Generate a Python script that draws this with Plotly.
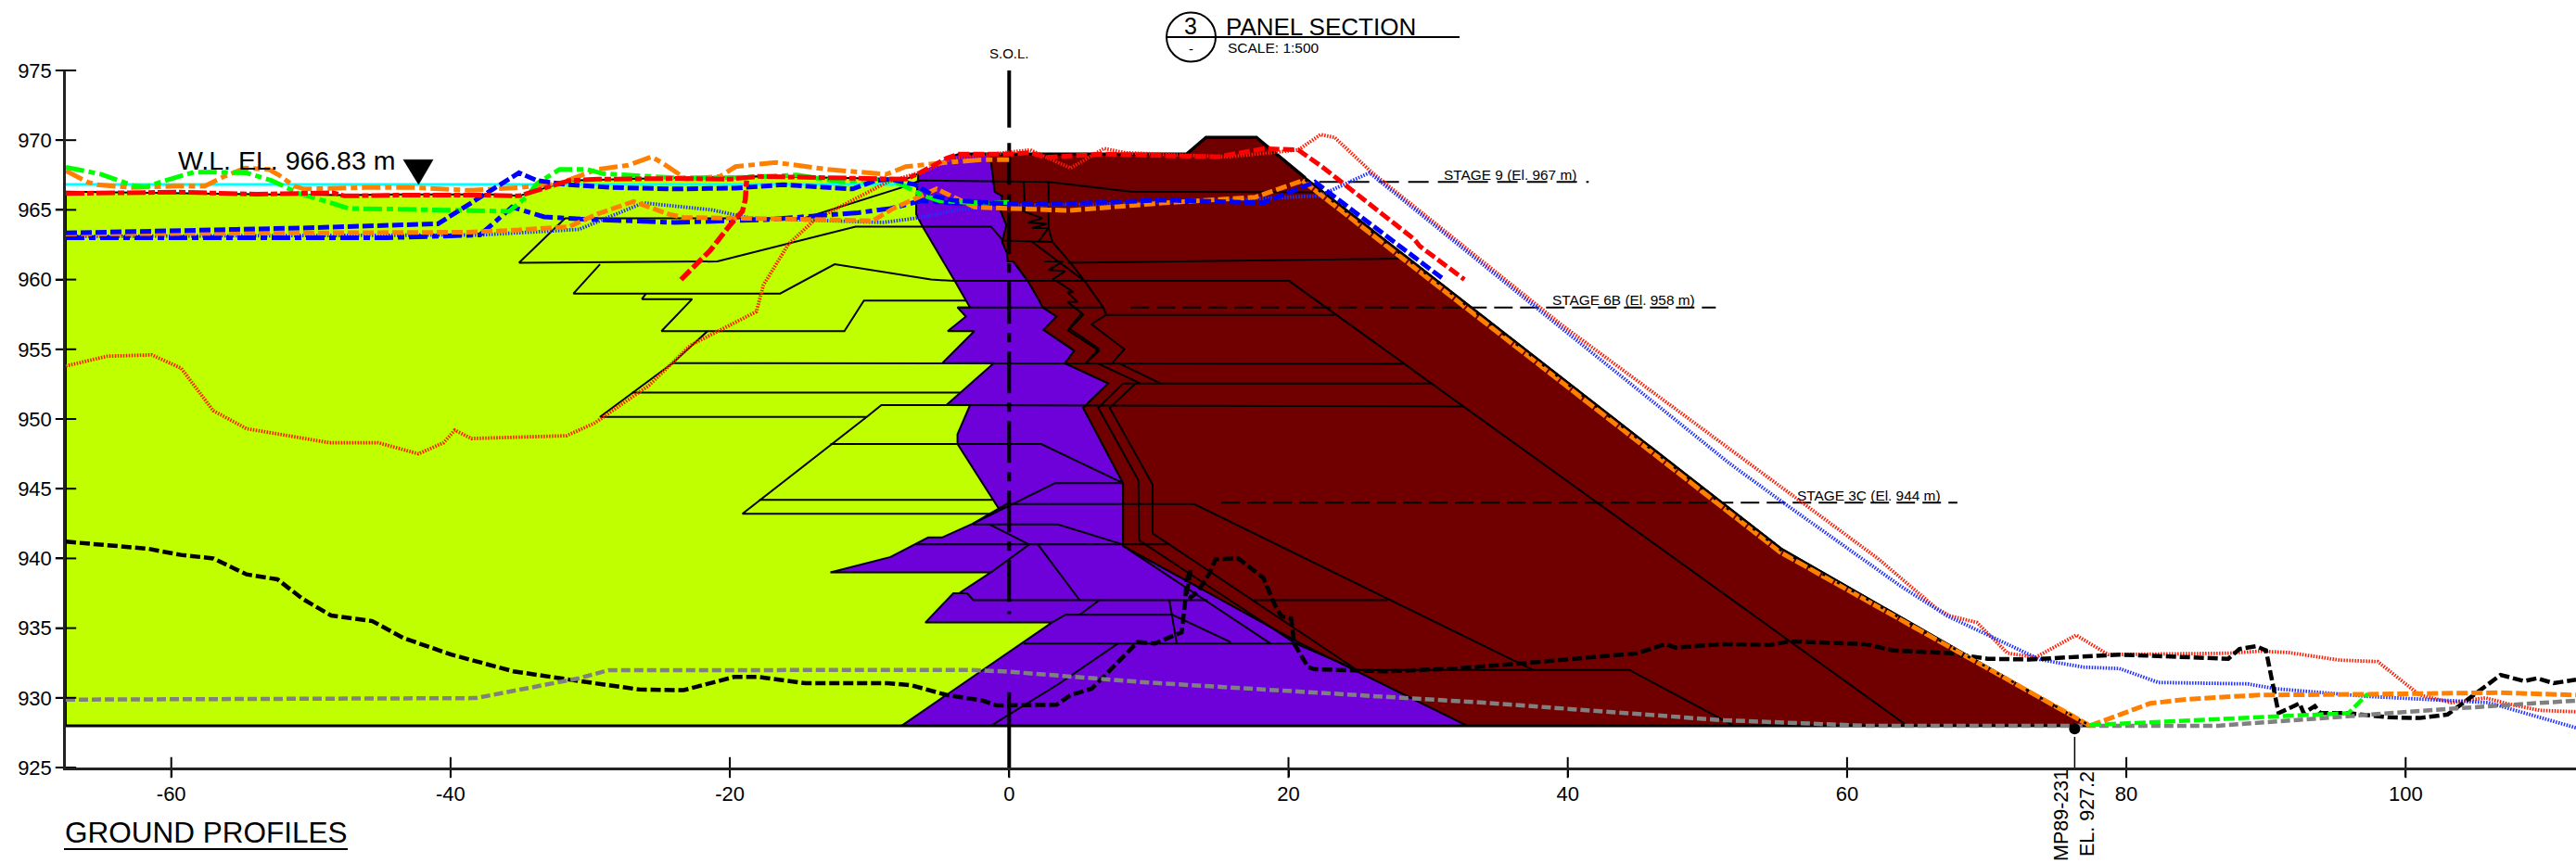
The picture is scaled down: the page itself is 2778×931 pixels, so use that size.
import plotly.graph_objects as go

X_TICKS = [-60, -40, -20, 0, 20, 40, 60, 80, 100]
Y_TICKS = [925, 930, 935, 940, 945, 950, 955, 960, 965, 970, 975]

YELLOW_ZONE = [(-67.55,928),(-67.55,966.3),(-47.5,966.05),(-44,966.1),(-37,966.1),(-35.1,966.0),(-31.5,967.1),(-24,967.3),(-18,967.4),(-7.4,967.2),(-6.5,967.6),(3.06,967),(3.06,928)]
PURPLE_ZONE = [(-6.5,967.6),(-6.66,965.6),(-6.66,964.7),(-6.2,963.8),(-3.9,959.9),(-2.8,958),(-3.7,958),(-3.1,957.35),(-4.4,956.3),(-2.5,956.3),(-4.8,954),(-1.1,954),(-4.5,951),(-2.8,951),(-3.7,948.9),(-3.7,948.2),(-0.7,943.5),(-0.1,943.95),(-2.6,942.5),(-4.8,941.5),(-5.8,941.5),(-8.5,940.1),(-12.8,939),(-1.3,939),(-3.6,937.5),(-4,937.5),(-6,935.4),(3.06,935.4),(-7.7,928),(32.8,928),(20.87,933.9),(8.16,940.9),(8.16,945.4),(5.3,950.8),(7.1,952.55),(4,954),(4.67,954.9),(2.47,956.4),(3.4,957.35),(2.4,958),(2.1,958.6),(1.34,959.9),(0.3,961.3),(-0.1,961.3),(-0.15,961.9),(-0.5,962.7),(-0.2,963.9),(-0.6,964.9),(-0.5,966),(-1.03,966.3),(-1.3,968.5),(-1.3,969),(-3.65,969),(-4.5,968.7)]
RED_ZONE = [(32.8,928),(20.87,933.9),(8.16,940.9),(8.16,945.4),(5.3,950.8),(7.1,952.55),(4,954),(4.67,954.9),(2.47,956.4),(3.4,957.35),(2.4,958),(2.1,958.6),(1.34,959.9),(0.3,961.3),(-0.1,961.3),(-0.15,961.9),(-0.5,962.7),(-0.2,963.9),(-0.6,964.9),(-0.5,966),(-1.03,966.3),(-1.3,968.5),(-1.3,969),(12.7,969),(14.1,970.2),(17.7,970.2),(21.2,967.3),(33.1,958),(51,944),(55.3,940.7),(77.4,928)]
CREST = [(-3.65,969),(12.7,969),(14.1,970.2),(17.7,970.2),(21.2,967.3)]
SLOPE = [(21.2,967.3),(33.1,958),(51,944),(55.3,940.7),(77.4,928)]
SLOPE_DOTS = [(21.2,967.15),(33.1,957.85),(51,943.85),(55.3,940.55),(77.4,928)]
BASE = [(-67.55,928),(77.4,928)]

INNER_LINES = [
    [(-35.1,961.2),(-31.8,964.4),(-14.7,964.4),(-7.4,966.7),(-6.4,967.1),(2.8,967),(8.75,966.3),(18.4,966.3),(21.9,966.25)],
    [(-35.1,961.2),(-20.9,961.3),(-11,963.8),(-1.3,963.8),(-0.44,962.8),(3.1,962.7)],
    [(-29.3,961.1),(-31.2,959),(-16.4,959),(-12.5,961.1),(-5.6,960),(-3.9,959.9),(20.05,959.9),(64.3,928)],
    [(-26,959),(-26.3,958.6),(-22.7,958.6),(-24.9,956.3),(-11.8,956.3),(-10.4,958.5),(-3.1,958.5)],
    [(-21.6,956.3),(-24.1,954),(-29.3,950.15),(-10.2,950.15),(-9.15,951),(32.5,950.9)],
    [(-24.1,954),(28.2,953.96)],
    [(-27,951.9),(-3.5,951.9)],
    [(-10.2,950.15),(-19.1,943.2),(-1.25,943.2)],
    [(-12.8,948.2),(2.3,948.2),(8.16,945.4)],
    [(-17.9,944.2),(-1.2,944.2)],
    [(3.3,945.4),(8.16,945.4)],
    [(-2.6,942.5),(3.3,945.4)],
    [(0.1,943.9),(13.25,943.9),(37.5,932)],
    [(-2.6,942.44),(3.49,942.44),(8.15,941)],
    [(-1.43,942.44),(1.44,941),(-1.3,939)],
    [(2.06,941),(5.05,937)],
    [(-6.7,941),(11.3,941)],
    [(-3.6,937.5),(-3,937.5),(-2.57,937),(14.2,937)],
    [(3.06,935.4),(4,935.95),(11.7,935.95),(15.85,934)],
    [(6.46,937),(5.05,935.95)],
    [(1.03,933.9),(20.87,933.9)],
    [(-1.3,928),(3.56,931),(7.8,933.9)],
    [(11.47,937),(12,933.9)],
    [(17.5,937),(27.1,937)],
    [(9.3,941.3),(20.5,933.9),(24.9,932)],
    [(10.27,941.8),(24.9,932)],
    [(8.16,940.9),(18.7,933.9)],
    [(24.9,932),(44.4,932),(51.9,928)],
    [(6.38,953.96),(9.4,952.55)],
    [(8.16,952.55),(6.38,950.8),(9.26,945.6),(9.3,941.3)],
    [(7.86,954),(10.83,952.55)],
    [(9.05,952.55),(7.2,950.8),(10.27,945.3),(10.27,941.8)],
    [(5.5,954),(6.44,954.9),(4.23,956.35),(5.3,957.47),(4.7,958)],
    [(3.4,959.9),(4.6,959.1),(4.16,959.1),(4.9,958.4),(4.16,958.4),(5.2,957.6),(4.3,956.5),(6.4,955.05),(5.5,954)],
    [(7.27,953.9),(8.25,955),(5.9,956.8),(6.95,957.47),(6.75,958),(5.4,959.9),(1.65,962.7)],
    [(3.1,962.7),(4.4,961.2),(5.4,959.9)],
    [(1.04,967),(1.1,965.8),(1.0,964.9),(2.37,964.4),(1.34,964.1),(2.68,964),(1.64,963.7),(2.82,963.7)],
    [(2.82,967),(2.82,963.7),(2.08,962.7)],
    [(2.82,963.7),(3.1,962.7)],
    [(2.5,961.3),(3.86,961.3),(2.82,960.68),(4,960.6),(3.1,960)],
    [(-3.7,958),(6.75,958)],
    [(6.95,957.47),(23.3,957.47)],
    [(8.16,952.55),(30.3,952.55)],
    [(4.2,961.2),(28.1,961.5)],
]

STAGE_9 = [(22.2,967),(41.5,967)]
STAGE_6B = [(8.7,958),(50.6,958)]
STAGE_3C = [(15.2,944),(67.9,944)]

CYAN_WL = [(-67.55,966.83),(-6.5,966.83)]

RED_DOTTED = [(-67.55,953.8),(-64.6,954.5),(-61.4,954.6),(-59.3,953.65),(-57,950.6),(-54.6,949.3),(-48.7,948.3),(-45.2,948.3),(-42.3,947.5),(-40.5,948.3),(-39.7,949.2),(-38.5,948.6),(-31.7,948.8),(-29.7,949.7),(-25.8,952.4),(-22.8,955.3),(-18.1,957.7),(-17.6,959.6),(-15.8,962.55),(-13.9,964.3),(-8.7,967),(-6,967.8),(-4,968.7),(0,969.1),(1.5,969.3),(4.4,968),(6.8,969.4),(8.3,969.1),(15.7,968.8),(20.7,969.3),(22.3,970.4),(23.3,970.2),(26,967.66),(39.5,956.8),(53,946.8),(59.2,942.2),(62.2,940),(66.3,936.5),(67.3,935.9),(69.3,935.4),(71.5,933.2),(73.5,932.9),(76.4,934.5),(78.7,933.1),(87.3,933.2),(89.6,933.35),(91.6,933.25),(95.3,932.7),(98,932.6),(101,930.2),(103.3,929.65),(105.7,930),(107.4,929.55),(109.6,929.1),(112.2,929)]
BLUE_DOTTED = [(-67.55,963.1),(-37.9,963.2),(-30.8,963.6),(-28.4,964.6),(-26.2,965.5),(-21.3,965),(-18.5,964.4),(-9,964.1),(-6.7,964.4),(-3.65,965),(0,965.35),(6.4,965.4),(15.4,965.7),(22.2,966),(25.8,967.66),(39.2,956.8),(51.6,946.8),(55.5,943.95),(63.9,937.97),(67.2,935.86),(73.8,932.75),(76.9,932.2),(79.5,932.1),(82.3,931.1),(88.7,931),(90.7,930.65),(97.3,930.1),(105.9,929.66),(112.2,927.85)]
GRAY_DASHED = [(-67.55,929.87),(-38.2,929.98),(-30.8,931.4),(-28.7,931.98),(-2.8,932),(0,931.87),(9.9,931.1),(29.4,929.87),(34,929.65),(51,928.4),(61.2,928),(86.6,928),(95.9,928.7),(103,929.2),(112.2,929.8)]
BLACK_DASHED = [(-67.55,941.2),(-61.7,940.7),(-59.3,940.25),(-57,940),(-54.6,938.85),(-52.4,938.5),(-50.6,937.1),(-48.55,935.9),(-45.6,935.5),(-43.4,934.3),(-39.95,933.1),(-35.5,931.9),(-30.76,931.2),(-26.5,930.6),(-23.3,930.55),(-19.7,931.5),(-18,931.5),(-14.6,931.05),(-8.7,931.05),(-7,930.9),(-4.47,930.2),(-1.9,929.8),(-0.9,929.45),(3.4,929.5),(4.4,930.2),(5.9,930.65),(6.9,931.65),(9.2,934),(10.45,933.9),(11.85,934.5),(12.35,934.7),(12.6,936.85),(12.7,938.4),(13,939.2),(12.7,937.4),(13,937.2),(13.5,937.6),(14.3,938.85),(14.8,939.95),(16.4,940),(18.2,938.6),(19.1,936.5),(19.5,935.85),(20.2,935.7),(20.4,933.9),(21.4,932.2),(21.9,932.05),(26.97,931.9),(32,932.1),(36.5,932.45),(40.9,932.85),(45,933.2),(47,933.85),(47.7,933.6),(51.1,933.85),(54.5,933.8),(55.9,934.05),(61.3,933.85),(63.3,933.4),(67.4,933.2),(70.05,932.8),(73,932.75),(75.8,932.9),(79.5,933.1),(87.3,932.8),(88.1,933.5),(89.3,933.7),(90,933.4),(90.9,928.9),(92.4,929.6),(92.7,928.9),(93.5,929.4),(93.9,928.9),(95.9,928.9),(98.8,928.6),(101,928.55),(103,928.8),(106.8,931.64),(108.5,931.2),(109.4,931.4),(110.6,931.05),(112.2,931.3)]
RED_SURFACE = [(-67.55,966.18),(-59.4,966.27),(-53.9,966.12),(-48.4,966.23),(-47.6,966),(-44,966.05),(-37.3,966.05),(-35.1,966),(-31.5,967.1),(-29.5,967.2),(-24,967.25),(-20,967.2),(-18,967.4),(-13,967.3),(-7.4,967.2),(-6.5,967.6)]
RED_CREST = [(-6.5,967.6),(-4.5,968.7),(-3.65,969),(0,969),(1.5,969.1),(2.6,968.77),(6.7,969),(14.9,968.8),(18.3,969.4),(20.7,969.3),(22.4,968.1),(29,962.9),(29.4,962.4),(32.6,960)]
RED_LOWER = [(-23.5,960),(-21.4,962.1),(-20,963.9),(-19.1,964.9),(-18.9,965.7),(-18.8,967.1)]
GREEN_TOP = [(-67.55,968.06),(-65,967.55),(-62.7,966.73),(-61.8,966.66),(-60.1,967.2),(-58.4,967.7),(-56.8,967.7),(-54.6,967.65),(-52.8,967.1),(-50.9,966.2),(-48.4,965.45),(-47.3,965.1),(-44,965.05),(-39.6,964.95),(-35.8,964.9),(-34.6,965.9),(-33.8,966.9),(-32.2,967.9),(-30.2,967.9),(-29.1,967.6),(-24,967.3),(-20.2,967.3),(-15.2,967.5),(-12,967),(-9.6,967.2),(-8.3,967.1),(-6.3,966.1),(-5,965.65),(-1.9,965.5),(0,965.55)]
GREEN_RIGHT = [(77.4,928.05),(90.4,928.65),(95.9,928.9),(97.3,930.3)]
ORANGE_TOP = [(-67.55,967.8),(-66,967),(-65.3,966.8),(-62.8,966.6),(-59.8,966.7),(-57.6,966.7),(-56.2,967.4),(-54.7,968),(-53,967.9),(-52.3,967.5),(-51.2,966.7),(-50.5,966.5),(-46.2,966.6),(-42.6,966.6),(-38.7,966.4),(-35.1,966.6),(-32.2,966.9),(-29.5,967.9),(-27.3,968.2),(-25.6,968.8),(-24.9,968.4),(-24,967.8),(-23.1,967.2),(-20.7,967.4),(-19.6,968.1),(-16.7,968.4),(-13,967.9),(-8.8,967.55),(-7.4,968.1),(-4.5,968.4),(-1.9,968.6),(0,968.6)]
ORANGE_LOWER = [(-67.55,963.27),(-38.7,963.4),(-35.1,963.56),(-31.5,963.8),(-29.5,964.7),(-26.9,965.6),(-24.4,964.7),(-23.3,964.45),(-13,964.3),(-9.8,964.2),(-8.3,965.1),(-5.2,966.5),(-3.2,965.55),(-2.5,965.2),(0,965.1),(4.3,964.96),(11.1,965.5),(17.6,965.9),(21,967.1)]
ORANGE_SLOPE = [(21,967.1),(33,957.75),(50.9,943.75),(55.2,940.45),(77.4,928)]
ORANGE_RIGHT = [(77.4,928),(81.7,929.6),(84.4,929.9),(89.5,930.2),(97.3,930.26),(106.8,930.37),(112.2,930.2)]
BLUE_UPPER = [(-67.55,963.34),(-57.3,963.55),(-50.7,963.7),(-40.9,964),(-37.4,966.2),(-35.1,967.66),(-33.8,967.1),(-31.5,966.8),(-28.4,966.6),(-24,966.5),(-19.6,966.56),(-16.2,966.8),(-11.2,966.5),(-9.6,967.1),(-8.5,967.2),(-6.7,966.8),(-5.4,966),(-4.1,965.7),(-1.9,965.55),(0,965.45),(4.3,965.45),(11.1,965.7),(18.2,965.5),(21.9,967),(31.2,959.95)]
BLUE_LOWER = [(-67.55,963),(-44.6,963),(-37.9,963.2),(-35.6,965.2),(-33.3,964.5),(-30.7,964.34),(-24,964.1),(-17.4,964.3),(-10.8,964.8),(-8.5,965.1),(-6.3,965.65),(-4,965.5),(0,965.4)]
SOL_TOP = [(0,975),(0,970.9)]
SOL_MIDDLE = [(0,969.8),(0,936)]
SOL_BOTTOM = [(0,930.4),(0,924.4)]
TRIANGLE = [(-43.4,968.6),(-41.25,968.6),(-42.3,966.8)]
BOREHOLE_X = 76.3
BOREHOLE_Y = 927.77
BOREHOLE_STEM = [(76.3,927.2),(76.3,925)]

W, H = 2778, 931
L, R, T, B = 71, 0, 76, 103
x_range = [(L - 1088.3) / 15.06, (W - R - 1088.3) / 15.06]

def px(v):
    return (v - L) / (W - L - R)

def py(v):
    return (H - B - v) / (H - T - B)

fig = go.Figure()

def line(pts, color="black", width=2, dash=None, clip=True):
    fig.add_trace(go.Scatter(x=[p[0] for p in pts], y=[p[1] for p in pts], mode="lines",
                             line=dict(color=color, width=width, dash=dash), hoverinfo="skip",
                             showlegend=False, cliponaxis=clip))

def zone(pts, color):
    fig.add_trace(go.Scatter(x=[p[0] for p in pts], y=[p[1] for p in pts], mode="lines", fill="toself",
                             fillcolor=color, line=dict(color="black", width=2), hoverinfo="skip",
                             showlegend=False))

zone(YELLOW_ZONE, "#c0ff00")
zone(PURPLE_ZONE, "#6e00da")
zone(RED_ZONE, "#700000")
for seg_pts in INNER_LINES:
    line(seg_pts, width=2)
line(BASE, width=3)
line(CREST, width=3.5)
line(SLOPE, width=2)

line(STAGE_9, width=2, dash="22px,10px")
line(STAGE_6B, width=2, dash="20px,8px")
line(STAGE_3C, width=2, dash="20px,8px")

line(SOL_TOP, width=4, clip=False)
line(SOL_MIDDLE, width=4, dash="45px,10px,10px,10px")
line(SOL_BOTTOM, width=4, clip=False)

line(CYAN_WL, "#00ffff", 3)
line(RED_DOTTED, "#ff1a00", 3.8, "1.5px,1.5px")
line(BLUE_DOTTED, "#2030ff", 3.8, "1.5px,1.5px")
line(BLACK_DASHED, "black", 4.5, "11px,4px")
line(GRAY_DASHED, "#808080", 4.5, "10px,4px")
line(BLUE_LOWER, "#0000ff", 5, "20px,5px,7px,5px")
line(ORANGE_LOWER, "#ff8000", 5, "12px,4px")
line(ORANGE_SLOPE, "#ff8000", 5, "14px,2px")
line(SLOPE_DOTS, "black", 2.5, "3px,15px")
line(ORANGE_RIGHT, "#ff8000", 5, "12px,4px")
line(GREEN_RIGHT, "#00ff00", 4.5, "12px,4px")
line(ORANGE_TOP, "#ff8000", 5, "20px,5px,7px,5px")
line(GREEN_TOP, "#00ff00", 5, "20px,5px,7px,5px")
line(BLUE_UPPER, "#0000ff", 5, "12px,4px")
line(RED_SURFACE, "#ff0000", 5, "20px,3px,7px,3px")
line(RED_CREST, "#ff0000", 5, "12px,4px")
line(RED_LOWER, "#ff0000", 5.5, "14px,4px")

fig.add_trace(go.Scatter(x=[p[0] for p in TRIANGLE], y=[p[1] for p in TRIANGLE], mode="lines", fill="toself",
                         fillcolor="black", line=dict(color="black", width=0.5), hoverinfo="skip", showlegend=False))
fig.add_trace(go.Scatter(x=[BOREHOLE_X], y=[BOREHOLE_Y], mode="markers", cliponaxis=False,
                         marker=dict(color="black", size=12), hoverinfo="skip", showlegend=False))
line(BOREHOLE_STEM, width=1.5, clip=False)
fig.add_trace(go.Scatter(x=[x_range[0]] * len(Y_TICKS), y=Y_TICKS, mode="markers", cliponaxis=False,
                         marker=dict(symbol="line-ew", size=16, line=dict(color="black", width=2)),
                         hoverinfo="skip", showlegend=False))
fig.add_trace(go.Scatter(x=X_TICKS, y=[925] * len(X_TICKS), mode="markers", cliponaxis=False,
                         marker=dict(symbol="line-ns", size=16, line=dict(color="black", width=2)),
                         hoverinfo="skip", showlegend=False))

def label(text, x, y, size, angle=0, xanchor="center"):
    return dict(text=text, x=px(x), y=py(y), xref="paper", yref="paper", showarrow=False, textangle=angle,
                xanchor=xanchor, yanchor="middle", font=dict(size=size, color="black", family="Liberation Sans"))

annotations = [
    label("W.L. EL. 966.83 m", 309, 173, 28.5),
    label("PANEL SECTION", 1425, 29, 26),
    label("SCALE: 1:500", 1373, 51, 15.5),
    label("3", 1284, 28, 25),
    label("-", 1284, 52, 15),
    label("S.O.L.", 1088, 58, 15),
    label("STAGE 9 (El. 967 m)", 1628.5, 188, 15.4),
    label("STAGE 6B (El. 958 m)", 1751, 323, 15.4),
    label("STAGE 3C (El. 944 m)", 2015, 534, 15.4),
    label("GROUND PROFILES", 222, 898, 31.5),
    label("MP89-231", 2223, 880, 21.5, angle=-90),
    label("EL. 927.2", 2251, 878, 21.5, angle=-90),
]

def seg(x0, y0, x1, y1, width=2):
    return dict(type="line", xref="paper", yref="paper", x0=px(x0), y0=py(y0), x1=px(x1), y1=py(y1),
                line=dict(color="black", width=width))

shapes = [
    dict(type="circle", xref="paper", yref="paper", x0=px(1258), x1=px(1311), y0=py(66.5), y1=py(13.5),
         line=dict(color="black", width=2)),
    seg(1258, 40, 1574, 40),
    seg(69, 916, 375, 916),
]

fig.update_layout(
    width=W, height=H, autosize=False,
    margin=dict(l=L, r=R, t=T, b=B, pad=0),
    paper_bgcolor="white", plot_bgcolor="white",
    showlegend=False,
    font=dict(family="Liberation Sans", size=22, color="black"),
    annotations=annotations, shapes=shapes,
    xaxis=dict(range=x_range, tickmode="array", tickvals=X_TICKS, ticktext=[str(v) for v in X_TICKS],
               ticks="outside", ticklen=7, tickwidth=2, tickcolor="black", showline=True, linecolor="#222222",
               linewidth=2.5, showgrid=False, zeroline=False, tickfont=dict(size=22)),
    yaxis=dict(range=[925, 975], tickmode="array", tickvals=Y_TICKS, ticktext=[str(v) for v in Y_TICKS],
               ticks="outside", ticklen=8, tickwidth=2, tickcolor="black", showline=True, linecolor="#222222",
               linewidth=2.5, showgrid=False, zeroline=False, tickfont=dict(size=22), ticklabelstandoff=0),
)

fig.write_html("out.html", config={"displayModeBar": False},
               post_script="document.body.style.margin='0';document.body.style.overflow='hidden';")
